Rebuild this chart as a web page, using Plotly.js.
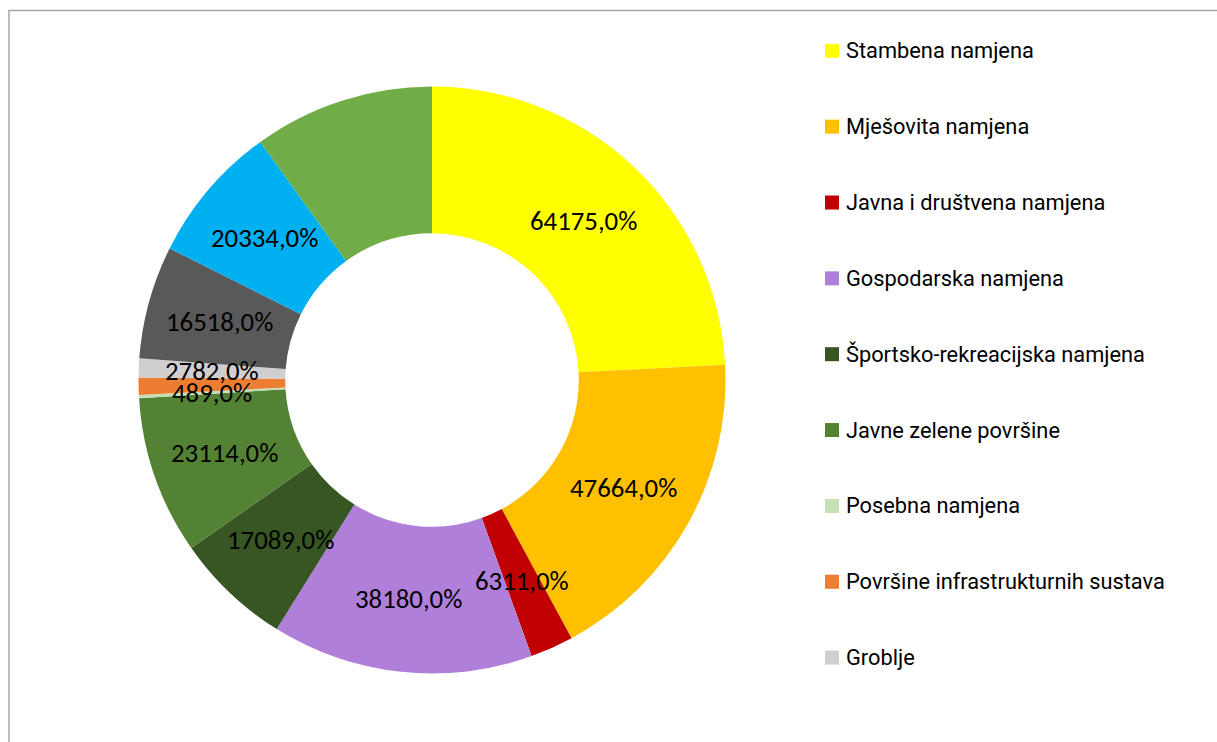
<!DOCTYPE html>
<html><head><meta charset="utf-8">
<script src="https://cdn.plot.ly/plotly-3.0.1.min.js"></script>
<style>html,body{margin:0;padding:0;background:#fff;overflow:hidden;} #chart{width:1217px;height:742px;}</style>
</head><body><div id="chart"></div>
<script>
// ---- data ----
const categories = ["Stambena namjena", "Mješovita namjena", "Javna i društvena namjena", "Gospodarska namjena",
  "Športsko-rekreacijska namjena", "Javne zelene površine", "Posebna namjena", "Površine infrastrukturnih sustava",
  "Groblje", "(10)", "(11)", "(12)"];
const values = [64175, 47664, 6311, 38180, 17089, 23114, 489, 2500, 2782, 16518, 20334, 26400];
const labelShown = [true, true, true, true, true, true, true, false, true, true, true, false];
const legendCount = 9;   // the legend lists the first nine categories
const colors = ["#FFFF00", "#FFC000", "#C00000", "#B07FDA", "#375623", "#548235", "#C5E0B4", "#ED7D31",
  "#D0CECE", "#595959", "#00B0F0", "#70AD47"];

// ---- layout geometry ----
const W = 1217, H = 742, CX = 432, CY = 380, R = 293.5, HOLE = 0.5;

const pie = {
  type: "pie",
  labels: categories,
  values: values,
  sort: false,
  direction: "clockwise",
  rotation: 0,
  hole: HOLE,
  textinfo: "none",
  hoverinfo: "none",
  showlegend: false,
  marker: {colors: colors, line: {width: 0}},
  domain: {x: [(CX - R) / W, (CX + R) / W], y: [(H - CY - R) / H, (H - CY + R) / H]}
};

const total = values.reduce((a, b) => a + b, 0);
const annotations = [];
const shapes = [];
let cum = 0;
const rMid = R * (1 + HOLE) / 2;
values.forEach((v, i) => {
  const mid = (cum + v / 2) / total;
  cum += v;
  if (!labelShown[i]) return;
  const th = 2 * Math.PI * mid;
  const x = CX + rMid * Math.sin(th), y = CY - rMid * Math.cos(th);
  annotations.push({
    text: v + ",0%", x: x / W, y: 1 - y / H, xref: "paper", yref: "paper",
    xanchor: "center", yanchor: "middle", showarrow: false,
    font: {family: "Carlito, 'Noto Sans', sans-serif", size: 26.8, color: "#000"}
  });
});

// legend (first nine categories)
const LEG_Y0 = 50.8, LEG_DY = 75.85, SQ = 14, SQ_X = 825, TXT_X = 843.5;
for (let i = 0; i < legendCount; i++) {
  const yc = LEG_Y0 + i * LEG_DY;
  shapes.push({type: "rect", xref: "paper", yref: "paper",
    x0: SQ_X / W, x1: (SQ_X + SQ) / W, y0: 1 - (yc + SQ / 2) / H, y1: 1 - (yc - SQ / 2) / H,
    fillcolor: colors[i], line: {width: 0}});
  annotations.push({
    text: categories[i], x: TXT_X / W, y: 1 - yc / H, xref: "paper", yref: "paper",
    xanchor: "left", yanchor: "middle", showarrow: false,
    font: {family: "Roboto, 'Liberation Sans', Arial, sans-serif", size: 21.8, color: "#000"}
  });
}

// outer chart frame
shapes.push({type: "rect", xref: "paper", yref: "paper",
  x0: 9 / W, x1: 1.05, y0: -0.05, y1: 1 - 10.5 / H,
  line: {color: "#A6A6A6", width: 1.5}, fillcolor: "rgba(0,0,0,0)"});

const layout = {
  width: W, height: H,
  margin: {l: 0, r: 0, t: 0, b: 0},
  paper_bgcolor: "#FFFFFF",
  plot_bgcolor: "#FFFFFF",
  showlegend: false,
  annotations: annotations,
  shapes: shapes
};

Plotly.newPlot("chart", [pie], layout, {displayModeBar: false, staticPlot: true});
</script>
</body></html>
